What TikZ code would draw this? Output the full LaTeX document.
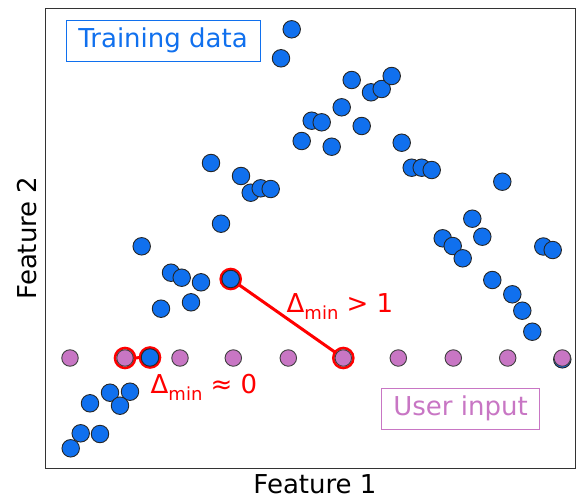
\documentclass[tikz,border=0pt]{standalone}
\usepackage{fontspec}
\setmainfont{DejaVu Sans}
\usepackage{xcolor}
\usepackage{tikz}

\definecolor{trainblue}{RGB}{16,112,238}
\definecolor{userpink}{RGB}{200,118,196}
\newcommand{\dminsub}{\raisebox{-0.28em}{\fontsize{18}{18}\selectfont min}}

\begin{document}
\begin{tikzpicture}[x=1pt,y=-1pt,
    train/.style={circle,draw=black!85,line width=0.9pt,fill=trainblue,minimum size=17.5pt,inner sep=0pt},
    user/.style={circle,draw=black!75,line width=0.9pt,fill=userpink,minimum size=16.5pt,inner sep=0pt},
    ring/.style={circle,draw=red,line width=2.6pt,minimum size=20pt,inner sep=0pt},
    labeltext/.style={font=\fontsize{26}{30}\selectfont},
    legendbox/.style={draw,line width=0.8pt,labeltext,inner sep=0pt}]
                \useasboundingbox (0,0) rectangle (576,498);
                \draw [line width=0.9pt, black!80] (45,8) rectangle (575.5,468);
                % red links behind the points
                \coordinate (hA) at (230.7,279);
                \coordinate (hB) at (150,357.5);
                \coordinate (hU2) at (125,358);
                \coordinate (hU6) at (343.3,358);
                \node [ring] at (hA) {};
                \node [ring] at (hB) {};
                \node [ring] at (hU2) {};
                \node [ring] at (hU6) {};
                \draw [red, line width=3pt] (hA) -- (hU6);
                \draw [red, line width=3pt] (hU2) -- (hB);
                % training data
                \foreach \x/\y [count=\i] in {291.7/29.3, 281/58.3, 351.7/80, 371/92.3, 381.7/89, 391.7/76,
                    341.7/107.3, 311.7/120.7, 321.7/122.3, 361.7/126, 301.7/141, 331.7/146.7, 401.7/142.7,
                    411.7/167.7, 421.7/167.7, 431.7/170, 502.3/181.7, 472.3/218.7, 482.3/236.7, 442.7/238.3,
                    452.7/246, 462.7/258.3, 543.3/246.5, 552.7/250, 492.3/280, 512.3/294.3, 522.3/310.7,
                    532.3/331.7, 562.3/359.3, 211/163, 241/176, 250.7/192.7, 260.7/188.3, 270.7/189, 221/223.7,
                    141.7/246.3, 171/272.7, 181.7/277.7, 201/282.3, 191/302.3, 161/308.7, 110/392.7,
                    130/391.7, 120/405.7, 90/403.3, 80.7/433.3, 100/434, 70.7/448.3}
                    \node [train] (t\i) at (\x,\y) {};
                \node [train] (tA) at (hA) {};
                \node [train] (tB) at (hB) {};
                % user input
                \foreach \x [count=\i] in {70,125,180,233.3,288.3,343.3,398.3,453.3,507.7,562.3}
                    \node [user] (u\i) at (\x,358) {};
                % labels
                \node [labeltext, red, anchor=base] (dfar) at (340,312) {Δ\dminsub{} > 1};
                \node [labeltext, red, anchor=base] (dnear) at (204,393) {Δ\dminsub{} ≈ 0};
                \node [legendbox, trainblue, minimum width=194pt, minimum height=41pt] (train) at (163,40.5) {Training data};
                \node [legendbox, userpink, minimum width=158pt, minimum height=41pt] (user) at (460.5,408.8) {User input};
                \node [labeltext, anchor=base, inner ysep=1pt] (xlabel) at (315,493) {Feature 1};
                \node [labeltext, anchor=base, rotate=90] (ylabel) at (36,238) {Feature 2};
\end{tikzpicture}
\end{document}
